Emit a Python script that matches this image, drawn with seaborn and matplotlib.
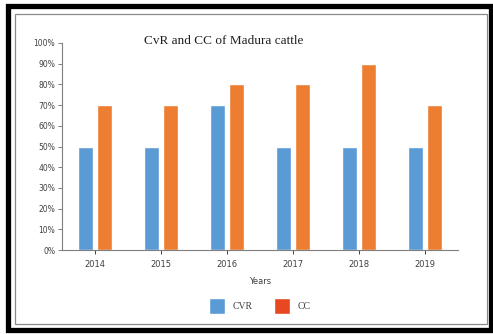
import matplotlib
matplotlib.use("Agg")
import matplotlib.pyplot as plt
import seaborn as sns
import pandas as pd
from matplotlib.patches import Rectangle
from matplotlib.ticker import PercentFormatter

years = ["2014", "2015", "2016", "2017", "2018", "2019"]
cvr = [50, 50, 70, 50, 50, 50]
cc = [70, 70, 80, 80, 90, 70]
series_names = ["CVR", "CC"]
title = "CvR and CC of Madura cattle"

df = pd.DataFrame({
    "Years": years * 2,
    "value": cvr + cc,
    "series": [series_names[0]] * len(years) + [series_names[1]] * len(years),
})

sns.set_style("white")
W, H = 493, 334
fig = plt.figure(figsize=(W / 100, H / 100), dpi=100)
ax = fig.add_axes([62 / W, 1 - 250 / H, (458 - 62) / W, (250 - 43) / H])

sns.barplot(data=df, x="Years", y="value", hue="series", ax=ax,
            palette=["#5B9BD5", "#ED7D31"], width=0.56, gap=0.18,
            saturation=1, legend=True)

ax.set_ylim(0, 100)
ax.set_xlim(-0.5, 5.5)
ax.set_yticks(range(0, 101, 10))
ax.yaxis.set_major_formatter(PercentFormatter(decimals=0))
for s in ["top", "right"]:
    ax.spines[s].set_visible(False)
for s in ["left", "bottom"]:
    ax.spines[s].set_color("#7f7f7f")
    ax.spines[s].set_linewidth(0.8)
ax.tick_params(axis="y", length=3, width=0.7, color="#7f7f7f", labelsize=5.5, pad=2, left=True)
ax.tick_params(axis="x", length=3, width=0.7, color="#404040", labelsize=6, pad=4, bottom=True)
for lab in ax.get_xticklabels() + ax.get_yticklabels():
    lab.set_color("#404040")
ax.set_ylabel("")
ax.set_xlabel("Years", fontsize=6, color="#404040", labelpad=6)
ax.set_title(title, fontsize=9.5, family="Liberation Serif", color="#202020", va="top")
ax.title.set_position(((224 - 62) / (458 - 62), (250 - 30) / (250 - 43)))

leg = ax.legend(loc="center", bbox_to_anchor=(0.5, (250 - 306) / (250 - 43)),
                ncol=2, frameon=False, handlelength=1.6,
                handleheight=2.0, columnspacing=2.2, handletextpad=0.8,
                prop={"family": "Liberation Serif", "size": 7})
leg.legend_handles[1].set_facecolor("#E8481F")
for t in leg.get_texts():
    t.set_color("#404040")

# Outer black frame and inner gray frame
fig.patches.append(Rectangle((7.5 / W, 1 - 329.5 / H), (490.5 - 7.5) / W, (329.5 - 5.5) / H,
                             transform=fig.transFigure, fill=False, ec="black", lw=3.8))
fig.patches.append(Rectangle((15 / W, 1 - 324 / H), (487 - 15) / W, (324 - 14) / H,
                             transform=fig.transFigure, fill=False, ec="#8a8a8a", lw=0.9))

fig.savefig("out.png", dpi=100)
